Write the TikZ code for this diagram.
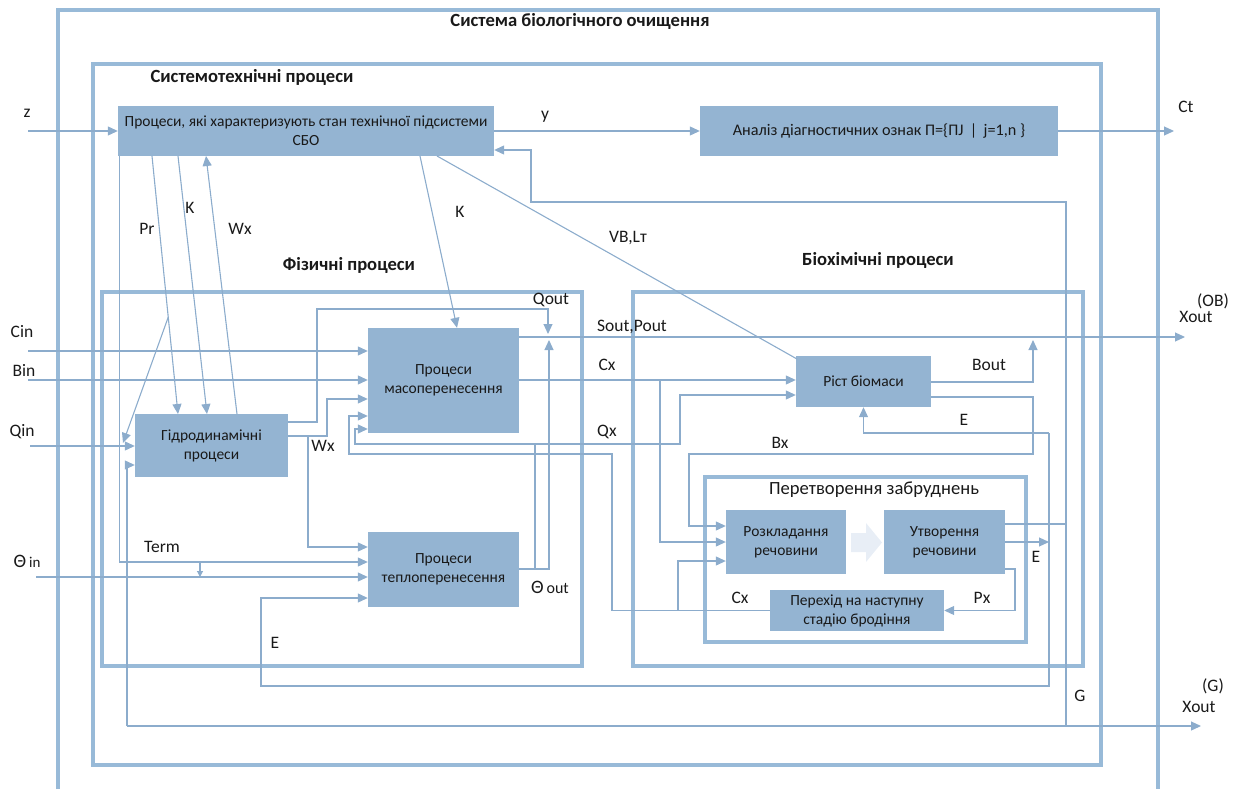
\documentclass[tikz,border=0pt]{standalone}
\usepackage{fontspec}
\setmainfont{Carlito}
\usetikzlibrary{arrows.meta}
\definecolor{boxfill}{RGB}{148,180,210}
\definecolor{framec}{RGB}{152,186,216}
\definecolor{linec}{RGB}{140,172,204}
\definecolor{faint}{RGB}{232,238,246}
\definecolor{txt}{RGB}{25,25,25}
\begin{document}
\begin{tikzpicture}[x=1pt,y=-1pt,
  proc/.style={fill=boxfill, inner sep=0pt, align=center, text=txt,
    font=\fontsize{15.5}{19}\selectfont},
  frame/.style={draw=framec, line width=3.2pt},
  conn/.style={draw=linec, line width=1.1pt},
  arr/.style={conn, -{Triangle[length=10pt,width=9pt]}},
  lab/.style={font=\fontsize{17.5}{20}\selectfont, text=txt, inner sep=0pt},
  ttl/.style={font=\bfseries\fontsize{18.6}{22}\selectfont, text=txt, inner sep=0pt},
]
\useasboundingbox (0,0) rectangle (1241,789);

% ---------- frames ----------
\draw[frame] (58,789) -- (58,10) -- (1158,10) -- (1158,789);
\draw[frame] (93,64) rectangle (1101,765);
\draw[frame] (102,292) rectangle (582,666);
\draw[frame] (633,292) rectangle (1083,666);
\draw[frame] (705,477) rectangle (1026,642);

\node[ttl] (t0) at (580,21) {Система біологічного очищення};
\node[ttl] (t1) at (252,77) {Системотехнічні процеси};
\node[ttl] (t2) at (349,265) {Фізичні процеси};
\node[ttl] (t3) at (878,260) {Біохімічні процеси};
\node[lab, font=\fontsize{18.6}{22}\selectfont] (t4) at (874,490) {Перетворення забруднень};

% ---------- process blocks ----------
\node[proc, minimum width=376, minimum height=50] (T) at (306,131)
  {Процеси, які характеризують стан технічної підсистеми\\СБО};
\node[proc, minimum width=358, minimum height=50, font=\fontsize{16.2}{19}\selectfont] (A) at (879,131)
  {Аналіз діагностичних ознак П=\{ПJ \,|\, j=1,n \}};
\node[proc, minimum width=153, minimum height=63] (H) at (211.5,445.5)
  {Гідродинамічні\\процеси};
\node[proc, minimum width=151, minimum height=105] (M) at (443.5,380.5)
  {Процеси\\масоперенесення};
\node[proc, minimum width=151, minimum height=75] (Th) at (443.5,569.5)
  {Процеси\\теплоперенесення};
\node[proc, minimum width=135, minimum height=51] (R) at (863.5,381.5)
  {Ріст біомаси};
\node[proc, minimum width=120, minimum height=64] (D) at (786,542)
  {Розкладання\\речовини};
\node[proc, minimum width=121, minimum height=64] (U) at (944.5,542)
  {Утворення\\речовини};
\node[proc, minimum width=174, minimum height=41] (P) at (857,610.5)
  {Перехід на наступну\\стадію бродіння};

% faint block arrow between decomposition and formation
\fill[faint] (851,533) -- (866,533) -- (866,523) -- (882,542.5)
  -- (866,562) -- (866,552) -- (851,552) -- cycle;

% ---------- top row ----------
\coordinate (zin) at (28,131);
\draw[arr] (zin) -- (T.west);
\draw[arr] (T.east) -- (A.west);
\coordinate (ctout) at (1174,131);
\draw[arr] (A.east) -- (ctout);

\node[lab] (lz) at (27,113) {z};
\node[lab] (ly) at (545,117) {y};
\node[lab] (lct) at (1186,107) {Ct};

% feedback into the technical subsystem
\coordinate (fbbot) at (1066,726);
\draw[arr] (fbbot) -- (1066,202) -- (531,202) -- (531,150) -- (T.east |- 0,150);
\draw[conn] (U.east |- 0,524) -- (1066,524);

% ---------- links from the technical subsystem ----------
\coordinate (prtop) at (152,156);
\coordinate (prbot) at (178,414);
\draw[arr] (prtop) -- (prbot);
\coordinate (prmid) at (168.3,317);
\coordinate (qtip) at (123,443);
\draw[arr] (prmid) -- (qtip);
\draw[arr] (178,156) -- (207,414);
\draw[arr] (237,414) -- (206,156);
\draw[arr] (420,156) -- (M.north -| 457,0);
\draw[conn] (437,156) -- (797,359);

\node[lab] (lpr) at (147,229) {Pr};
\node[lab] (lk1) at (190,208) {K};
\node[lab] (lwx1) at (240,229) {Wx};
\node[lab] (lk2) at (460,212) {K};
\node[lab] (lvb) at (628,238) {VB,Lт};

% ---------- inputs on the left ----------
\draw[arr] (28,351) -- (M.west |- 0,351);
\draw[arr] (28,380) -- (M.west |- 0,380);
\draw[arr] (30,446) -- (H.west |- 0,446);
\draw[arr] (36,577) -- (Th.west |- 0,577);
\node[lab] (lcin) at (22,332) {Cin};
\node[lab] (lbin) at (24,370) {Bin};
\node[lab] (lqin) at (22,432) {Qin};
\node[lab] (lthin) at (27,561) {{\fontsize{19}{20}\selectfont Θ}\,{\fontsize{15}{16}\selectfont in}};

% Term
\draw[arr] ([xshift=2pt]T.south west) |- (Th.west |- 0,562);
\draw[conn, -{Triangle[length=6pt,width=6pt]}] (200,562) -- (200,577);
\node[lab] (lterm) at (162,547) {Term};

% hydrodynamics outputs
\draw[arr] (H.east |- 0,422) -- (317,422) -- (317,309) -- (548,309) -- (548,334);
\draw[arr] (H.east |- 0,436) -- (327,436) |- (M.west |- 0,399);
\draw[arr] (308,436) |- (Th.west |- 0,547);
\node[lab] (lwx2) at (323,446) {Wx};
\node[lab] (lqout) at (551,300) {Qout};

% heat transfer output
\draw[arr] (Th.east |- 0,569) -- (549,569) -- (549,340);
\draw[arr] (535,569) -- (535,444) -- (680,444) |- (R.west |- 0,395);
\draw[arr] (535,444) -- (355,444) |- (M.west |- 0,429);
\node[lab] (lthout) at (550,587) {{\fontsize{19}{20}\selectfont Θ}\,{\fontsize{16}{17}\selectfont out}};
\node[lab] (lqx) at (607,432) {Qx};

% mass transfer outputs
\coordinate (obout) at (1185,337);
\draw[arr] (M.east |- 0,337) -- (obout);
\draw[arr] (M.east |- 0,380) -- (R.west |- 0,380);
\draw[arr] (660,380) |- (D.west |- 0,542);
\node[lab] (lsout) at (632,327) {Sout,Pout};
\node[lab] (lcx1) at (607,365) {Cx};
\node[lab] (lob) at (1213,301) {(OB)};
\node[lab] (lxout1) at (1196,317) {Xout};

% biomass outputs
\draw[arr] (R.east |- 0,382) -| (1033,340);
\draw[arr] (R.east |- 0,397) -- (1033,397) -- (1033,454) -- (689,454) |- (D.west |- 0,526);
\node[lab] (lbout) at (989,365) {Bout};
\node[lab] (lbx) at (780,443) {Bx};

% energy loop
\draw[arr] (1049,433) -- (1049,686) -- (261,686) |- (Th.west |- 0,598);
\draw[arr] (1049,433) -| (R.south);
\draw[arr] (U.east |- 0,542) -- (1049,542);
\node[lab] (le1) at (964,420) {E};
\node[lab] (le2) at (1036,557) {E};
\node[lab] (le3) at (275,643) {E};

% transformation loop
\draw[arr] (U.east |- 0,569) -- (1015,569) |- (P.east);
\draw[arr] (P.west) -- (612,610.5) -- (612,454) -- (349,454) |- (M.west |- 0,416);
\draw[arr] (678,610.5) |- (D.west |- 0,561);
\node[lab] (lpx) at (982,598) {Px};
\node[lab] (lcx2) at (740,598) {Cx};

% gas output
\coordinate (gl) at (127,726);
\coordinate (gr) at (1201,726);
\draw[arr] (gl) -- (gr);
\draw[arr] (gl) |- (H.west |- 0,465);
\node[lab] (lg) at (1080,696) {G};
\node[lab] (lgg) at (1213,686) {(G)};
\node[lab] (lxout2) at (1199,707) {Xout};
\end{tikzpicture}
\end{document}
